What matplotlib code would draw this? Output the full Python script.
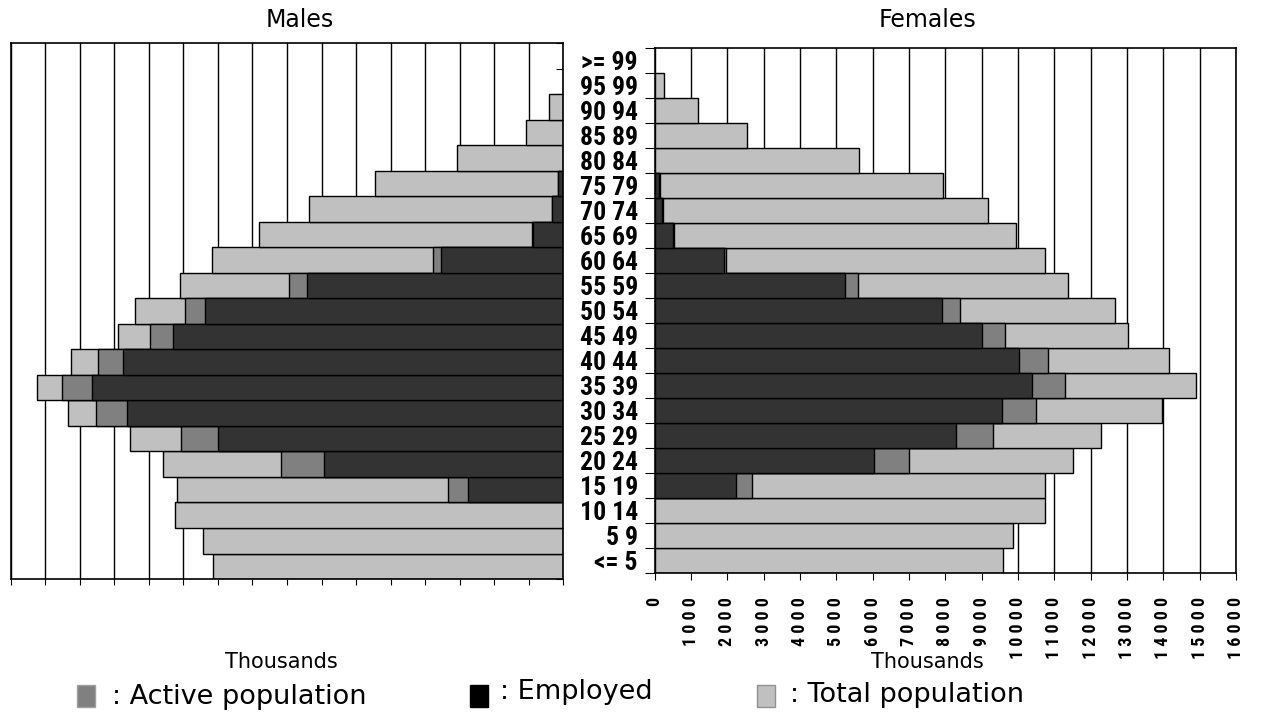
import numpy as np
import matplotlib.pyplot as plt
from matplotlib.patches import Rectangle
from matplotlib import font_manager as fm

# age groups, bottom to top
ages = ['<= 5', '5 9', '10 14', '15 19', '20 24', '25 29', '30 34', '35 39',
        '40 44', '45 49', '50 54', '55 59', '60 64', '65 69', '70 74', '75 79',
        '80 84', '85 89', '90 94', '95 99', '>= 99']

# thousands
male_total = [10130, 10420, 11240, 11190, 11580, 12550, 14350, 15230, 14260, 12890,
              12410, 11100, 10180, 8820, 7360, 5460, 3090, 1090, 420, 0, 0]
male_active = [0, 0, 0, 3330, 8160, 11060, 13530, 14500, 13470, 11960,
               10940, 7940, 3770, 920, 330, 140, 0, 0, 0, 0, 0]
male_employed = [0, 0, 0, 2750, 6940, 9990, 12620, 13640, 12750, 11300,
                 10380, 7420, 3530, 890, 330, 140, 0, 0, 0, 0, 0]

female_total = [9590, 9860, 10740, 10740, 11510, 12280, 13960, 14890, 14150, 13020,
                12660, 11370, 10740, 9950, 9180, 7940, 5630, 2550, 1200, 250, 0]
female_active = [0, 0, 0, 2690, 7000, 9310, 10490, 11290, 10820, 9640,
                 8400, 5600, 1970, 530, 230, 150, 0, 0, 0, 0, 0]
female_employed = [0, 0, 0, 2230, 6040, 8300, 9560, 10380, 10030, 9010,
                   7910, 5250, 1900, 500, 210, 130, 0, 0, 0, 0, 0]

xticks = list(range(0, 16001, 1000))

C_TOTAL = '#c0c0c0'
C_ACTIVE = '#808080'
C_EMP = '#333333'


# look for a narrow bold face for the age labels
def is_bold(f):
    return f.weight in ('bold', 700, '700') or str(f.weight) == '700'


narrow = None
for key in ['Liberation Sans Narrow', 'Roboto Condensed', 'DejaVu Sans',
            'Noto Sans', 'Open Sans']:
    for f in fm.fontManager.ttflist:
        cond = ('Narrow' in f.name or 'Condensed' in f.name
                or str(f.stretch) in ('condensed', 'semi-condensed', '75', '87'))
        if f.name.startswith(key) and cond and is_bold(f):
            narrow = f.fname
            break
    if narrow:
        break

if narrow:
    lab_fp = fm.FontProperties(fname=narrow, size=18.5)
    tick_fp = fm.FontProperties(fname=narrow, size=13)
    tick_txt = [' '.join(str(v)) for v in xticks]
else:
    lab_fp = fm.FontProperties(family='Roboto', weight='bold', size=15)
    tick_fp = fm.FontProperties(family='Roboto', weight='bold', size=11)
    tick_txt = [str(v) for v in xticks]

fig = plt.figure(figsize=(12.69, 7.13), dpi=100)
axl = fig.add_axes([0.0084, 0.1879, 0.4355, 0.7518])
axr = fig.add_axes([0.5158, 0.1959, 0.4582, 0.7368])

y = np.arange(len(ages))


def draw_bars(ax, total, active, employed):
    for vals, col in [(total, C_TOTAL), (active, C_ACTIVE), (employed, C_EMP)]:
        vals = np.array(vals)
        m = vals > 0
        ax.barh(y[m], vals[m], height=1.0, color=col, edgecolor='black',
                linewidth=1, zorder=2)
    ax.set_ylim(-0.5, len(ages) - 0.5)
    ax.set_xticks(xticks)
    ax.grid(axis='x', color='black', linewidth=1)
    ax.grid(axis='y', visible=False)
    ax.set_axisbelow(True)
    for s in ax.spines.values():
        s.set_linewidth(1.2)


draw_bars(axl, male_total, male_active, male_employed)
axl.set_xlim(16000, 0)
axl.tick_params(axis='x', direction='out', length=4, labelbottom=False)
axl.yaxis.tick_right()
axl.set_yticks(np.arange(-0.5, len(ages), 1.0))
axl.tick_params(axis='y', direction='in', length=5, labelright=False)

draw_bars(axr, female_total, female_active, female_employed)
axr.set_xlim(0, 16000)
axr.set_xticklabels(tick_txt, rotation=90, fontproperties=tick_fp, va='top')
axr.tick_params(axis='x', direction='out', length=5, pad=12)
axr.set_yticks(np.arange(-0.5, len(ages), 1.0))
axr.set_yticklabels([])
axr.tick_params(axis='y', which='major', direction='out', length=7)
axr.set_yticks(y, minor=True)
axr.set_yticklabels(ages, minor=True, fontproperties=lab_fp)
axr.tick_params(axis='y', which='minor', length=0, pad=12)

fig.text(300 / 1269, 1 - 20 / 713, 'Males', ha='center', va='center', fontsize=17)
fig.text(927 / 1269, 1 - 20 / 713, 'Females', ha='center', va='center', fontsize=17)
fig.text(281 / 1269, 1 - 662 / 713, 'Thousands', ha='center', va='center', fontsize=15)
fig.text(927 / 1269, 1 - 662 / 713, 'Thousands', ha='center', va='center', fontsize=15)

# legend
for x0, col, ec, label, tx, ty in [
        (77, C_ACTIVE, '#a0a0a0', ': Active population', 112, 697),
        (470, 'black', 'black', ': Employed', 500, 692),
        (757, C_TOTAL, '#909090', ': Total population', 790, 695)]:
    fig.patches.append(Rectangle((x0 / 1269, 1 - 707 / 713), 18 / 1269, 22 / 713,
                                 facecolor=col, edgecolor=ec, linewidth=1,
                                 transform=fig.transFigure, figure=fig))
    fig.text(tx / 1269, 1 - ty / 713, label, ha='left', va='center', fontsize=19.5)

fig.savefig('out.png', dpi=100)
